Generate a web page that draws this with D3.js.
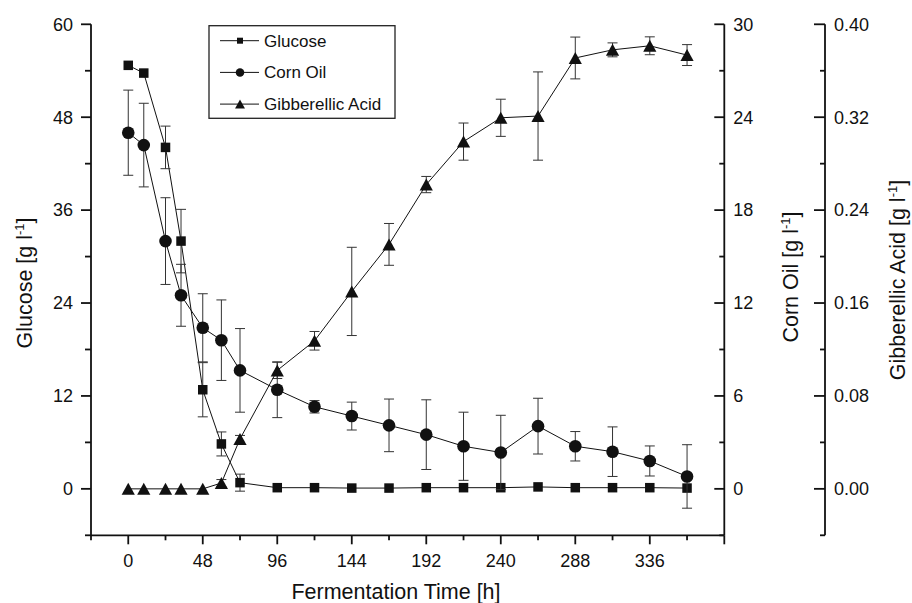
<!DOCTYPE html>
<html>
<head>
<meta charset="utf-8">
<script src="https://cdn.jsdelivr.net/npm/d3@7"></script>
<style>
  body { margin: 0; background: #fff; }
  svg text { font-family: "Liberation Sans", Arial, sans-serif; fill: #111; }
</style>
</head>
<body>
<div id="chart"></div>
<script>
// sampling times (h)
const time_h = [0, 10, 24, 34, 48, 60, 72, 96, 120, 144, 168, 192, 216, 240, 264, 288, 312, 336, 360];

const glucose     = [54.7, 53.7, 44.1, 32.0, 12.8, 5.8, 0.8, 0.15, 0.15, 0.1, 0.1, 0.15, 0.15, 0.15, 0.25, 0.15, 0.15, 0.15, 0.1];
const glucose_err = [0, 0, 2.75, 4.1, 3.5, 1.55, 1.1, 0, 0, 0, 0, 0, 0, 0, 0, 0, 0, 0, 0];

const corn_oil     = [23.0, 22.2, 16.0, 12.5, 10.4, 9.6, 7.65, 6.4, 5.3, 4.7, 4.1, 3.5, 2.75, 2.35, 4.05, 2.75, 2.4, 1.8, 0.8];
const corn_oil_err = [2.75, 2.7, 2.8, 2.0, 2.2, 2.6, 2.7, 1.8, 0.4, 0.9, 1.7, 2.25, 2.2, 2.4, 1.8, 0.95, 1.6, 0.97, 2.05];

const ga     = [0, 0, 0, 0, 0, 0.005, 0.043, 0.102, 0.1275, 0.17, 0.2105, 0.262, 0.299, 0.3195, 0.321, 0.371, 0.378, 0.3815, 0.3735];
const ga_err = [0, 0, 0, 0, 0, 0.003, 0.003, 0.007, 0.008, 0.038, 0.018, 0.007, 0.016, 0.016, 0.038, 0.018, 0.006, 0.0077, 0.009];

const x_ticks = [0, 48, 96, 144, 192, 240, 288, 336];
const glucose_ticks = [0, 12, 24, 36, 48, 60];
const corn_ticks = [0, 6, 12, 18, 24, 30];
const ga_ticks = [0.00, 0.08, 0.16, 0.24, 0.32, 0.40];

const legend_names = ["Glucose", "Corn Oil", "Gibberellic Acid"];

const width = 912, height = 603;
const plot_left = 91, plot_right = 724.3, plot_top = 24.3, plot_bottom = 535.3;
const ga_axis_x = 825;

const svg = d3.select("#chart").append("svg")
    .attr("width", width)
    .attr("height", height);

const x = d3.scaleLinear().domain([-24, 384]).range([plot_left, plot_right]);
const y_glu = d3.scaleLinear().domain([-6, 60]).range([plot_bottom, plot_top]);
const y_oil = d3.scaleLinear().domain([-3, 30]).range([plot_bottom, plot_top]);
const y_ga = d3.scaleLinear().domain([-0.04, 0.40]).range([plot_bottom, plot_top]);

const axis_w = 1.8;
const tick_font = 18;

// ---- axes ----
// bottom
svg.append("line").attr("x1", plot_left).attr("x2", plot_right).attr("y1", plot_bottom).attr("y2", plot_bottom)
    .attr("stroke", "#111").attr("stroke-width", axis_w);
d3.range(-24, 385, 24).forEach(function(t) {
    let major = t % 48 === 0;
    svg.append("line")
        .attr("x1", x(t)).attr("x2", x(t))
        .attr("y1", plot_bottom).attr("y2", plot_bottom + (major ? 9 : 5))
        .attr("stroke", "#111").attr("stroke-width", axis_w);
});
svg.selectAll(".xlab").data(x_ticks).enter().append("text")
    .attr("class", "xlab")
    .attr("x", d => x(d)).attr("y", 567)
    .attr("text-anchor", "middle").attr("font-size", tick_font)
    .text(d => d);

// left (glucose)
svg.append("line").attr("x1", plot_left).attr("x2", plot_left).attr("y1", plot_top).attr("y2", plot_bottom)
    .attr("stroke", "#111").attr("stroke-width", axis_w);
d3.range(-6, 61, 6).forEach(function(v) {
    let major = v % 12 === 0;
    svg.append("line")
        .attr("x1", plot_left - (major ? 10 : 6)).attr("x2", plot_left)
        .attr("y1", y_glu(v)).attr("y2", y_glu(v))
        .attr("stroke", "#111").attr("stroke-width", axis_w);
});
svg.selectAll(".ylab").data(glucose_ticks).enter().append("text")
    .attr("class", "ylab")
    .attr("x", 73).attr("y", d => y_glu(d))
    .attr("dy", "0.35em")
    .attr("text-anchor", "end").attr("font-size", tick_font)
    .text(d => d);

// right (corn oil), ticks pointing inward
svg.append("line").attr("x1", plot_right).attr("x2", plot_right).attr("y1", plot_top).attr("y2", plot_bottom)
    .attr("stroke", "#111").attr("stroke-width", axis_w);
d3.range(-3, 31, 3).forEach(function(v) {
    let major = v % 6 === 0;
    svg.append("line")
        .attr("x1", plot_right - (major ? 10 : 5)).attr("x2", plot_right)
        .attr("y1", y_oil(v)).attr("y2", y_oil(v))
        .attr("stroke", "#111").attr("stroke-width", axis_w);
});
svg.selectAll(".oillab").data(corn_ticks).enter().append("text")
    .attr("class", "oillab")
    .attr("x", plot_right + 9).attr("y", d => y_oil(d))
    .attr("dy", "0.35em").attr("font-size", tick_font)
    .text(d => d);

// offset axis (gibberellic acid)
svg.append("line").attr("x1", ga_axis_x).attr("x2", ga_axis_x).attr("y1", plot_top).attr("y2", plot_bottom)
    .attr("stroke", "#111").attr("stroke-width", axis_w);
d3.range(0, 12).forEach(function(i) {
    let v = -0.04 + i * 0.04;
    let major = i % 2 === 1;
    svg.append("line")
        .attr("x1", ga_axis_x - (major ? 11 : 5)).attr("x2", ga_axis_x)
        .attr("y1", y_ga(v)).attr("y2", y_ga(v))
        .attr("stroke", "#111").attr("stroke-width", axis_w);
});
svg.selectAll(".galab").data(ga_ticks).enter().append("text")
    .attr("class", "galab")
    .attr("x", ga_axis_x + 9).attr("y", d => y_ga(d))
    .attr("dy", "0.35em").attr("font-size", tick_font)
    .text(d => d3.format(".2f")(d));

// ---- axis titles ----
svg.append("text")
    .attr("x", 396).attr("y", 598.5)
    .attr("text-anchor", "middle").attr("font-size", 21.5)
    .text("Fermentation Time [h]");

function unit_title(tx, ty, label) {
    let t = svg.append("text")
        .attr("transform", "translate(" + tx + "," + ty + ") rotate(-90)")
        .attr("text-anchor", "middle").attr("font-size", 21.5);
    t.append("tspan").text(label + " [g l");
    t.append("tspan").attr("dy", -8).attr("font-size", 13).text("-1");
    t.append("tspan").attr("dy", 8).text("]");
}
unit_title(31.5, 283, "Glucose");
unit_title(797.5, 277, "Corn Oil");
unit_title(905, 280, "Gibberellic Acid");

// ---- series ----
const series = [
    {name: "Glucose", vals: glucose, err: glucose_err, y: y_glu, shape: "square"},
    {name: "Corn Oil", vals: corn_oil, err: corn_oil_err, y: y_oil, shape: "circle"},
    {name: "Gibberellic Acid", vals: ga, err: ga_err, y: y_ga, shape: "triangle"}
];

function draw_marker(g, shape, size) {
    if (shape === "square") {
        g.append("rect").attr("x", -size / 2).attr("y", -size / 2)
            .attr("width", size).attr("height", size).attr("fill", "#111");
    } else if (shape === "circle") {
        g.append("circle").attr("r", size / 2).attr("fill", "#111");
    } else {
        let w = size * 1.1, h = size;
        g.append("path")
            .attr("d", "M0," + (-h / 2) + "L" + (w / 2) + "," + (h / 2) + "L" + (-w / 2) + "," + (h / 2) + "Z")
            .attr("fill", "#111");
    }
}

const marker_size = {square: 9.5, circle: 12.6, triangle: 12};

series.forEach(function(s) {
    let pts = time_h.map((t, i) => ({t: t, v: s.vals[i], e: s.err[i]}));
    let line = d3.line().x(d => x(d.t)).y(d => s.y(d.v));
    svg.append("path").datum(pts)
        .attr("d", line)
        .attr("fill", "none").attr("stroke", "#111").attr("stroke-width", 1);

    let eb = svg.append("g");
    pts.filter(d => d.e > 0).forEach(function(d) {
        let cx = x(d.t), y1 = s.y(d.v + d.e), y2 = s.y(d.v - d.e);
        eb.append("line").attr("x1", cx).attr("x2", cx).attr("y1", y1).attr("y2", y2)
            .attr("stroke", "#333").attr("stroke-width", 1);
        [y1, y2].forEach(function(yy) {
            eb.append("line").attr("x1", cx - 5).attr("x2", cx + 5).attr("y1", yy).attr("y2", yy)
                .attr("stroke", "#333").attr("stroke-width", 1);
        });
    });

    pts.forEach(function(d) {
        let g = svg.append("g").attr("transform", "translate(" + x(d.t) + "," + s.y(d.v) + ")");
        draw_marker(g, s.shape, marker_size[s.shape]);
    });
});

// ---- legend ----
const legend = svg.append("g");
legend.append("rect")
    .attr("x", 209).attr("y", 25.7).attr("width", 186).attr("height", 92.6)
    .attr("fill", "#fff").attr("stroke", "#222").attr("stroke-width", 1.3);
const legend_shapes = {square: 6, circle: 8.5, triangle: 9};
series.forEach(function(s, i) {
    let ly = 40.7 + i * 31.7;
    legend.append("line").attr("x1", 220).attr("x2", 259).attr("y1", ly).attr("y2", ly)
        .attr("stroke", "#111").attr("stroke-width", 1);
    let g = legend.append("g").attr("transform", "translate(240," + ly + ")");
    draw_marker(g, s.shape, legend_shapes[s.shape]);
    legend.append("text")
        .attr("x", 264).attr("y", ly).attr("dy", "0.35em")
        .attr("font-size", 17)
        .text(legend_names[i]);
});
</script>
</body>
</html>
